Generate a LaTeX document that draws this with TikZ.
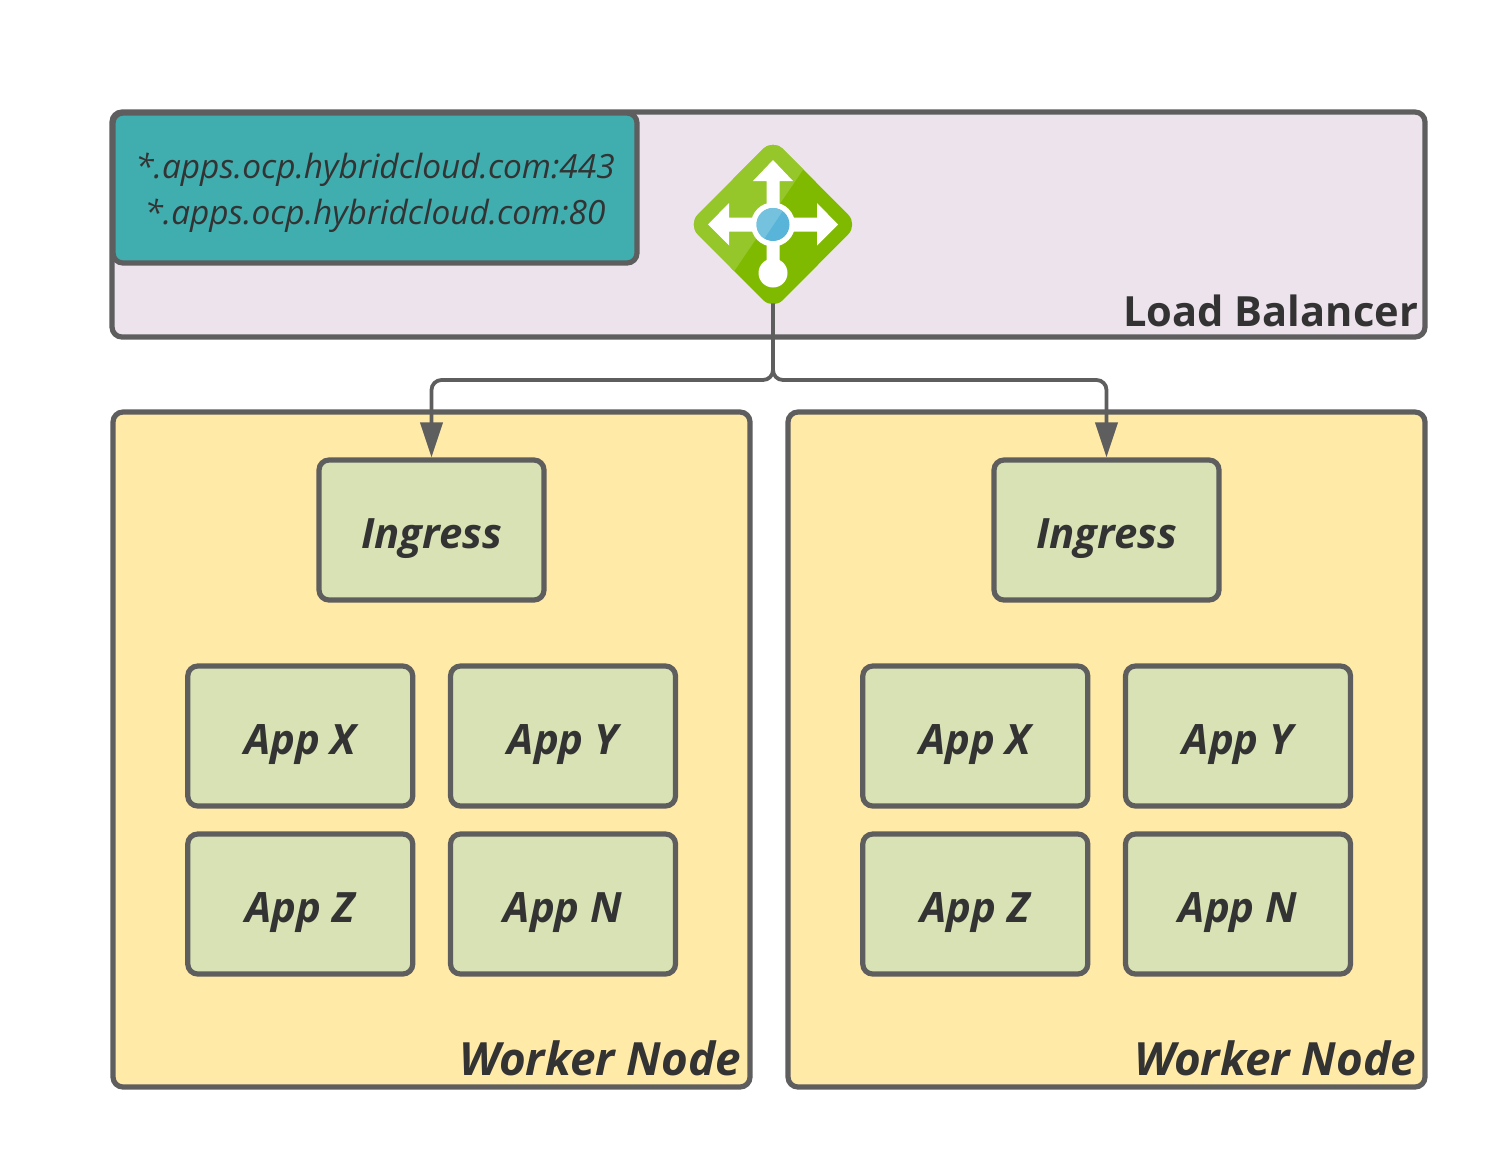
\documentclass[tikz,border=0pt]{standalone}
\usepackage{fontspec}
\setmainfont{Open Sans}
\usetikzlibrary{arrows.meta}
\definecolor{strokeC}{HTML}{5E5E5E}
\definecolor{textC}{HTML}{333333}
\definecolor{lbC}{HTML}{EDE3EC}
\definecolor{tealC}{HTML}{40ADAF}
\definecolor{yellowC}{HTML}{FFEAA7}
\definecolor{greenC}{HTML}{D8E2B4}
\definecolor{azG}{HTML}{7FBA00}
\definecolor{azL}{HTML}{95C62A}
\definecolor{azB}{HTML}{59B4D9}
\definecolor{azBL}{HTML}{75C2DF}
\tikzset{
  panel/.style={draw=strokeC,line width=2.6pt,rounded corners=5pt,inner sep=0pt,outer sep=1.3pt,text=textC},
  lbbox/.style={panel,fill=lbC,minimum width=656.5pt,minimum height=112.5pt},
  tealbox/.style={panel,fill=tealC,minimum width=262pt,minimum height=75pt,
     font=\fontsize{16.7pt}{23pt}\selectfont\itshape},
  worker/.style={panel,fill=yellowC,minimum width=318.5pt,minimum height=337.5pt},
  appbox/.style={panel,fill=greenC,minimum width=112.5pt,minimum height=70pt,
     text height=18pt,text depth=0pt,
     font=\fontsize{20.9pt}{25pt}\selectfont\bfseries\itshape},
  cornerlabel/.style={text=textC,inner sep=0pt,outer sep=0pt,anchor=base east},
  conn/.style={draw=strokeC,line width=1.9pt,rounded corners=5pt,-{Triangle[length=17.5pt,width=11pt]}}
}
\begin{document}
\begin{tikzpicture}[x=0.5pt,y=-0.5pt]
\useasboundingbox (0,0) rectangle (1500,1163);
\fill[white] (0,0) rectangle (1500,1163);
% panels
\node[lbbox] (lbpanel) at (768.5,224.5) {};
\node[worker] (w1) at (431.5,749.5) {};
\node[worker] (w2) at (1106.5,749.5) {};
\node[tealbox] (hosts) at (375,188) {\raisebox{-6.4pt}[0pt][0pt]{\begin{tabular}{@{}c@{}}*.apps.ocp.hybridcloud.com:443\\{}*.apps.ocp.hybridcloud.com:80\end{tabular}}};
% boxes
\node[appbox] (ing1) at (431.5,530) {Ingress};
\node[appbox] (x1) at (300.25,736) {App X};
\node[appbox] (y1) at (563,736) {App Y};
\node[appbox] (z1) at (300.25,904) {App Z};
\node[appbox] (n1) at (563,904) {App N};
\node[appbox] (ing2) at (1106.5,530) {Ingress};
\node[appbox] (x2) at (975.25,736) {App X};
\node[appbox] (y2) at (1238,736) {App Y};
\node[appbox] (z2) at (975.25,904) {App Z};
\node[appbox] (n2) at (1238,904) {App N};
% labels
\node[cornerlabel,font=\fontsize{20.8pt}{25pt}\selectfont\bfseries] (lblb) at (1418,326) {Load Balancer};
\node[cornerlabel,font=\fontsize{22.9pt}{27pt}\selectfont\bfseries\itshape] (lbw1) at (741,1075) {Worker Node};
\node[cornerlabel,font=\fontsize{22.9pt}{27pt}\selectfont\bfseries\itshape] (lbw2) at (1416,1075) {Worker Node};
% icon
\node[minimum size=79pt,inner sep=0pt,outer sep=0pt] (lb) at (773,224.5) {};
\begin{scope}
  \path[clip,rounded corners=7pt] (773,139) -- (858,224.5) -- (773,310) -- (688,224.5) -- cycle;
  \fill[azG] (680,130) rectangle (870,320);
  \fill[azL] (680,130) -- (830,130) -- (680,351) -- cycle;
\end{scope}
\fill[white] (773,160) -- (793,181) -- (779.5,181) -- (779.5,260) -- (766.5,260) -- (766.5,181) -- (753,181) -- cycle;
\fill[white] (708,224.5) -- (729,203) -- (729,217.5) -- (817,217.5) -- (817,203) -- (838,224.5) -- (817,245.5) -- (817,231.5) -- (729,231.5) -- (729,245.5) -- cycle;
\fill[white] (773,224.5) circle[radius=22];
\fill[white] (773,273) circle[radius=14.5];
\fill[azB] (773,224.5) circle[radius=16.5];
\begin{scope}
  \clip (773,224.5) circle[radius=16.5];
  \fill[azBL] (750,200) -- (790,200) -- (760,245) -- (750,245) -- cycle;
\end{scope}
% connectors
\coordinate (j1) at (431.5,380);
\coordinate (j2) at (1106.5,380);
\draw[conn] (lb.south) |- (j1) -- (ing1.north);
\draw[conn] (lb.south) |- (j2) -- (ing2.north);
\end{tikzpicture}
\end{document}
